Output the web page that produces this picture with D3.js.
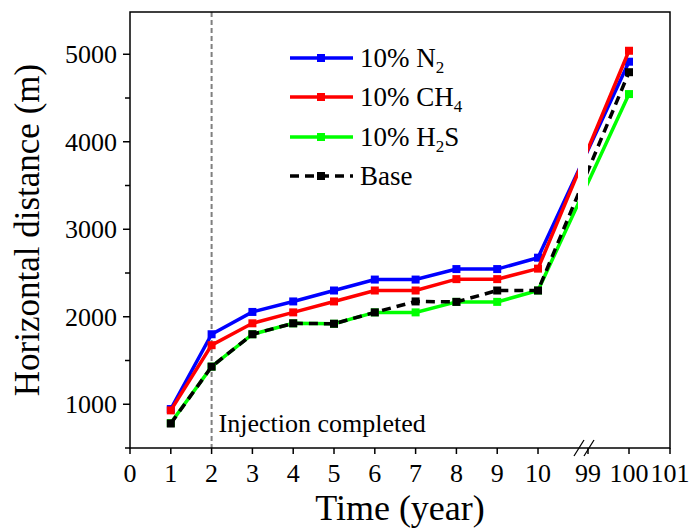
<!DOCTYPE html>
<meta charset="utf-8">
<script src="https://d3js.org/d3.v7.min.js"></script>
<style>
  body { margin: 0; background: #fff; }
  text { font-family: "Liberation Serif", "Times New Roman", serif; fill: #000; }
</style>
<body>
<div id="chart"></div>
<script>
// data
var years = [1, 2, 3, 4, 5, 6, 7, 8, 9, 10, 100];
var n2   = [945, 1800, 2055, 2175, 2300, 2425, 2425, 2545, 2545, 2675, 4915];
var ch4  = [930, 1675, 1925, 2050, 2175, 2300, 2300, 2430, 2430, 2550, 5040];
var h2s  = [785, 1430, 1800, 1925, 1920, 2050, 2050, 2170, 2170, 2300, 4545];
var base = [780, 1430, 1800, 1925, 1920, 2050, 2175, 2170, 2300, 2300, 4795];

var seriesNames = ["10% N2", "10% CH4", "10% H2S", "Base"];
var xTicks = [0, 1, 2, 3, 4, 5, 6, 7, 8, 9, 10, 99, 100, 101];
var yTicks = [1000, 2000, 3000, 4000, 5000];
var yMinor = [500, 1500, 2500, 3500, 4500];

var W = 691, H = 529;
var pLeft = 130, pRight = 670, pTop = 12, pBottom = 448;

var svg = d3.select("#chart").append("svg")
    .attr("width", W).attr("height", H);

// broken x axis: 0..10.98 then 99..101
var x = d3.scaleLinear()
    .domain([0, 10.98, 99, 101])
    .range([pLeft, 578, 588, pRight]);
var y = d3.scaleLinear()
    .domain([500, 5483])
    .range([pBottom, pTop]);

var series = [
  {name: seriesNames[0], vals: n2,   color: "#0000ff", dash: null},
  {name: seriesNames[1], vals: ch4,  color: "#ff0000", dash: null},
  {name: seriesNames[2], vals: h2s,  color: "#00ff00", dash: null},
  {name: seriesNames[3], vals: base, color: "#000000", dash: "9,6"}
];

// clip to hide the lines inside the break
var defs = svg.append("defs");
var clip = defs.append("clipPath").attr("id", "brk");
clip.append("rect").attr("x", 0).attr("y", 0).attr("width", x(10.98)).attr("height", H);
clip.append("rect").attr("x", x(99)).attr("y", 0).attr("width", W - x(99)).attr("height", H);

// injection completed marker
svg.append("line")
    .attr("x1", x(2)).attr("x2", x(2))
    .attr("y1", pTop).attr("y2", pBottom)
    .attr("stroke", "#7f7f7f").attr("stroke-width", 2)
    .attr("stroke-dasharray", "5,3");
svg.append("text")
    .attr("x", x(2) + 7).attr("y", 432)
    .attr("font-size", 26)
    .text("Injection completed");

var line = d3.line()
    .x(function(d) { return x(d[0]); })
    .y(function(d) { return y(d[1]); });

series.forEach(function(s) {
  var pts = years.map(function(yr, i) { return [yr, s.vals[i]]; });
  svg.append("path")
      .datum(pts)
      .attr("d", line)
      .attr("fill", "none")
      .attr("stroke", s.color)
      .attr("stroke-width", 3.5)
      .attr("stroke-dasharray", s.dash)
      .attr("clip-path", "url(#brk)");
  svg.append("g").selectAll("rect")
      .data(pts)
      .enter().append("rect")
        .attr("x", function(d) { return x(d[0]) - 4; })
        .attr("y", function(d) { return y(d[1]) - 4; })
        .attr("width", 8).attr("height", 8)
        .attr("fill", s.color);
});

// frame
svg.append("rect")
    .attr("x", pLeft).attr("y", pTop)
    .attr("width", pRight - pLeft).attr("height", pBottom - pTop)
    .attr("fill", "none").attr("stroke", "#000").attr("stroke-width", 1.5);

// y axis ticks and labels
svg.append("g").selectAll("line").data(yTicks).enter().append("line")
    .attr("x1", pLeft - 7).attr("x2", pLeft)
    .attr("y1", function(d) { return y(d); }).attr("y2", function(d) { return y(d); })
    .attr("stroke", "#000").attr("stroke-width", 1.5);
svg.append("g").selectAll("line").data(yMinor).enter().append("line")
    .attr("x1", pLeft - 5).attr("x2", pLeft)
    .attr("y1", function(d) { return y(d); }).attr("y2", function(d) { return y(d); })
    .attr("stroke", "#000").attr("stroke-width", 1.5);
svg.append("g").selectAll("text").data(yTicks).enter().append("text")
    .attr("x", pLeft - 13)
    .attr("y", function(d) { return y(d) + 9; })
    .attr("text-anchor", "end")
    .attr("font-size", 26)
    .text(function(d) { return d; });

// x axis ticks and labels
svg.append("g").selectAll("line").data(xTicks).enter().append("line")
    .attr("x1", function(d) { return x(d); }).attr("x2", function(d) { return x(d); })
    .attr("y1", pBottom).attr("y2", pBottom + 6)
    .attr("stroke", "#000").attr("stroke-width", 1.5);
svg.append("g").selectAll("text").data(xTicks).enter().append("text")
    .attr("x", function(d) { return x(d); })
    .attr("y", 482)
    .attr("text-anchor", "middle")
    .attr("font-size", 26)
    .text(function(d) { return d; });

// break marks
var bx = [x(10.98) + 1, x(99) + 1];
svg.append("g").selectAll("line").data(bx).enter().append("line")
    .attr("x1", function(d) { return d - 5; }).attr("y1", pBottom + 8)
    .attr("x2", function(d) { return d + 5; }).attr("y2", pBottom - 8)
    .attr("stroke", "#000").attr("stroke-width", 1.3);

// axis titles
svg.append("text")
    .attr("x", (pLeft + pRight) / 2).attr("y", 520)
    .attr("text-anchor", "middle")
    .attr("font-size", 36)
    .text("Time (year)");
svg.append("text")
    .attr("transform", "translate(39," + (pTop + pBottom) / 2 + ") rotate(-90)")
    .attr("text-anchor", "middle")
    .attr("font-size", 35)
    .text("Horizontal distance (m)");

// legend
var legRows = [58, 97, 137, 176];
var legParts = [
  [["10% N", 0], ["2", 1]],
  [["10% CH", 0], ["4", 1]],
  [["10% H", 0], ["2", 1], ["S", 0]],
  [["Base", 0]]
];
series.forEach(function(s, i) {
  var g = svg.append("g").attr("transform", "translate(0," + legRows[i] + ")");
  g.append("line")
      .attr("x1", 290).attr("x2", 353).attr("y1", 0).attr("y2", 0)
      .attr("stroke", s.color).attr("stroke-width", 3.5)
      .attr("stroke-dasharray", s.dash);
  g.append("rect")
      .attr("x", 317).attr("y", -4).attr("width", 8).attr("height", 8)
      .attr("fill", s.color);
  var t = g.append("text").attr("x", 360).attr("y", 9).attr("font-size", 27);
  var shifted = false;
  legParts[i].forEach(function(p) {
    var ts = t.append("tspan").text(p[0]);
    if (p[1] && !shifted) { ts.attr("dy", 6).attr("font-size", 17); shifted = true; }
    else if (!p[1] && shifted) { ts.attr("dy", -6); shifted = false; }
  });
});
</script>
</body>
